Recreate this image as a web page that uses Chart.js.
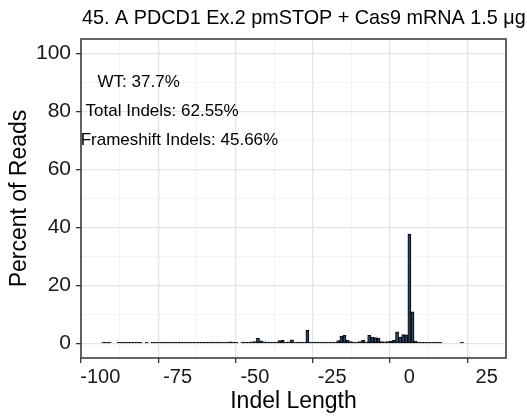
<!DOCTYPE html>
<html>
<head>
<meta charset="utf-8">
<script src="https://cdn.jsdelivr.net/npm/chart.js@4.4.0/dist/chart.umd.min.js"></script>
<style>
  html, body { margin: 0; padding: 0; background: #fff; }
  canvas { display: block; }
</style>
</head>
<body>
<canvas id="indelChart" width="527" height="418"></canvas>
<script>
// indel length (bp) and percent of reads with that indel
var indelLengths = [
  -99, -98, -97, -94, -93, -92, -91, -90, -89, -88, -87, -85,
  -83, -82, -81, -80, -79, -78, -77, -76, -75, -74,
  -73, -72, -71, -70, -69, -68, -67, -66, -65, -64,
  -63, -62, -61, -60, -59, -58, -57, -56,
  -54, -53, -52, -51, -50, -49, -48, -47, -46, -45,
  -44, -43, -42, -41, -40, -39, -38, -37, -36, -35,
  -34, -33, -32, -31, -30, -29, -28, -27, -26, -25,
  -24, -23, -22, -21, -20, -19, -18, -17, -16, -15,
  -14, -13, -12, -11, -10, -9, -8, -7, -6, -5,
  -4, -3, -2, -1, 0, 1, 2, 3, 4, 5,
  6, 7, 8, 9, 10, 17
];
var percentReads = [
  0.4, 0.4, 0.4, 0.4, 0.4, 0.4, 0.4, 0.4, 0.4, 0.4, 0.4, 0.4,
  0.4, 0.4, 0.4, 0.4, 0.4, 0.4, 0.4, 0.4, 0.4, 0.5,
  0.4, 0.4, 0.4, 0.4, 0.4, 0.4, 0.5, 0.4, 0.4, 0.5,
  0.5, 0.5, 0.4, 0.5, 0.5, 0.6, 0.5, 0.4,
  0.5, 0.5, 0.5, 0.6, 0.7, 1.8, 0.9, 0.6, 0.5, 0.5,
  0.5, 0.5, 1.0, 1.1, 0.5, 0.6, 1.3, 0.5, 0.5, 0.5,
  0.5, 4.5, 0.5, 0.5, 0.5, 0.5, 0.5, 0.5, 0.5, 0.5,
  0.5, 1.0, 2.6, 2.8, 1.2, 0.7, 0.5, 0.5, 0.7, 1.2,
  0.6, 2.8, 2.2, 2.0, 1.9, 0.7, 0.6, 0.7, 0.8, 1.2,
  4.0, 2.2, 3.1, 3.0, 37.7, 10.9, 0.8, 0.5, 0.4, 0.4,
  0.4, 0.4, 0.4, 0.4, 0.4, 0.5
];
var xTicks = [-100, -75, -50, -25, 0, 25];
var yTicks = [0, 20, 40, 60, 80, 100];
var statLabels = ['WT: 37.7%', 'Total Indels: 62.55%', 'Frameshift Indels: 45.66%'];
var statX = [-87.6, -80, -74.4];
var statY = [90, 80, 70];

var FONT = '"Liberation Sans", Arial, Helvetica, sans-serif';
Chart.defaults.font.family = FONT;

var titleText = '45. A PDCD1 Ex.2 pmSTOP + Cas9 mRNA 1.5 \u03bcg';

// major ticks plus a minor one halfway between each pair (theme_bw style grid)
function withMinor(list) {
  var out = [];
  for (var i = 0; i < list.length; i++) {
    out.push({ value: list[i] });
    if (i < list.length - 1) out.push({ value: (list[i] + list[i + 1]) / 2 });
  }
  return out;
}
function isMajor(list, v) { return list.indexOf(v) !== -1; }

var decorations = {
  id: 'decorations',
  afterDraw: function(chart) {
    var c = chart.ctx, a = chart.chartArea;
    var xs = chart.scales.x, ys = chart.scales.y;
    c.save();
    c.fillStyle = '#000';
    c.font = '17px ' + FONT;
    c.textAlign = 'center';
    c.textBaseline = 'middle';
    for (var i = 0; i < statLabels.length; i++) {
      c.fillText(statLabels[i], xs.getPixelForValue(statX[i]), ys.getPixelForValue(statY[i]));
    }
    c.strokeStyle = '#333333';
    c.lineWidth = 1.5;
    c.strokeRect(a.left, a.top, a.right - a.left, a.bottom - a.top);
    c.font = '19.8px ' + FONT;
    c.textAlign = 'left';
    c.textBaseline = 'alphabetic';
    c.fillText(titleText, a.left + 1, 24);
    c.restore();
  }
};

function gridOpts(list) {
  return {
    color: function(ctx) { return ctx.tick && isMajor(list, ctx.tick.value) ? '#e4e4e4' : '#f0f0f0'; },
    lineWidth: function(ctx) { return ctx.tick && isMajor(list, ctx.tick.value) ? 1.3 : 0.8; },
    tickLength: 5,
    tickWidth: 1.3,
    tickColor: function(ctx) { return ctx.tick && isMajor(list, ctx.tick.value) ? '#333333' : 'rgba(0,0,0,0)'; }
  };
}

new Chart(document.getElementById('indelChart').getContext('2d'), {
  type: 'bar',
  data: {
    datasets: [{
      data: indelLengths.map(function(x, i) { return { x: x, y: percentReads[i] }; }),
      backgroundColor: '#2c4562',
      borderColor: '#000000',
      borderWidth: 1,
      borderSkipped: false,
      categoryPercentage: 1,
      barPercentage: 1
    }]
  },
  options: {
    responsive: false,
    animation: false,
    layout: { padding: { top: 39, right: 21, left: 0, bottom: 0 } },
    plugins: { legend: { display: false }, tooltip: { enabled: false } },
    scales: {
      x: {
        type: 'linear',
        min: -106.25,
        max: 31.25,
        offset: false,
        afterBuildTicks: function(s) { s.ticks = withMinor(xTicks); },
        afterFit: function(s) { s.height = 60; },
        ticks: {
          autoSkip: false,
          maxRotation: 0,
          padding: 2,
          color: '#1a1a1a',
          font: { size: 20 },
          callback: function(v) { return isMajor(xTicks, v) ? String(v) : ''; }
        },
        grid: gridOpts(xTicks),
        border: { display: false },
        title: { display: true, text: 'Indel Length', color: '#000', font: { size: 23 }, padding: { top: 0, bottom: 3 } }
      },
      y: {
        min: -5,
        max: 105,
        afterBuildTicks: function(s) { s.ticks = withMinor(yTicks); },
        afterFit: function(s) { s.width = 81; },
        ticks: {
          autoSkip: false,
          padding: 5,
          color: '#1a1a1a',
          font: { size: 21 },
          callback: function(v) { return isMajor(yTicks, v) ? String(v) : ''; }
        },
        grid: gridOpts(yTicks),
        border: { display: false },
        title: { display: true, text: 'Percent of Reads', color: '#000', font: { size: 23 }, padding: { top: 6, bottom: 0 } }
      }
    }
  },
  plugins: [decorations]
});
</script>
</body>
</html>
